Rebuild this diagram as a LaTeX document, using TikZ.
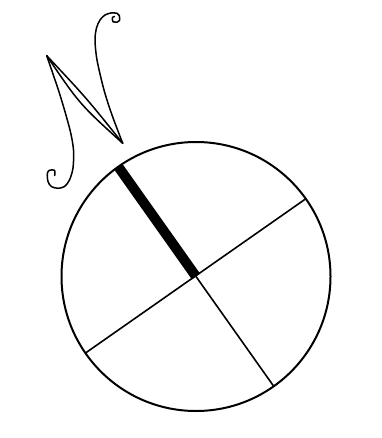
\documentclass[tikz,border=0pt]{standalone}
\usetikzlibrary{calc}
\begin{document}
\begin{tikzpicture}[x=1pt,y=-1pt,
  ring/.style={line width=2pt},
  spoke/.style={line width=1.6pt},
  bar/.style={line width=10pt, line cap=butt},
  pen/.style={line width=1.5pt, line join=round, line cap=round}]
\useasboundingbox (0,0) rectangle (381,438);
% compass circle
\coordinate (c) at (196,276.5);
\coordinate (ur) at ($(c)+(-35.3:134.5)$);
\coordinate (ul) at ($(c)+(-125.3:134.5)$);
\coordinate (ll) at ($(c)+(145.3:134.5)$);
\coordinate (lr) at ($(c)+(54.7:134.5)$);
\draw[ring] (c) circle (134.5);
\draw[spoke] (ll) -- (ur);
\draw[spoke] (c) -- (lr);
\draw[bar] (ul) -- (c);
% calligraphic N
\coordinate (ntl) at (46.7,55.7);
\coordinate (nbr) at (122.7,143.3);
\draw[pen] (ntl) .. controls (86,97.5) .. (nbr);
\draw[pen] (ntl) .. controls (79.5,104) .. (nbr);
\draw[pen] plot[smooth, tension=0.5] coordinates {
  (46.7,55.7) (60,95) (70,130) (73.5,150) (73,168) (69.5,180) (64.5,186.5)
  (58,188.3) (51.3,186.5) (48,181.5) (47.3,173.5) (49.5,170.3) (54.5,170.3) (54.7,175.5)};
\draw[pen] plot[smooth, tension=0.5] coordinates {
  (122.7,143.3) (112,115) (104,90) (97,60) (95,40) (96.5,28) (100,20) (105,15)
  (111,13) (117,13.3) (119.3,15.5) (119.5,20.5) (117.5,22) (113,21.7) (112.5,17.5) (114.5,16.5)};
\end{tikzpicture}
\end{document}
